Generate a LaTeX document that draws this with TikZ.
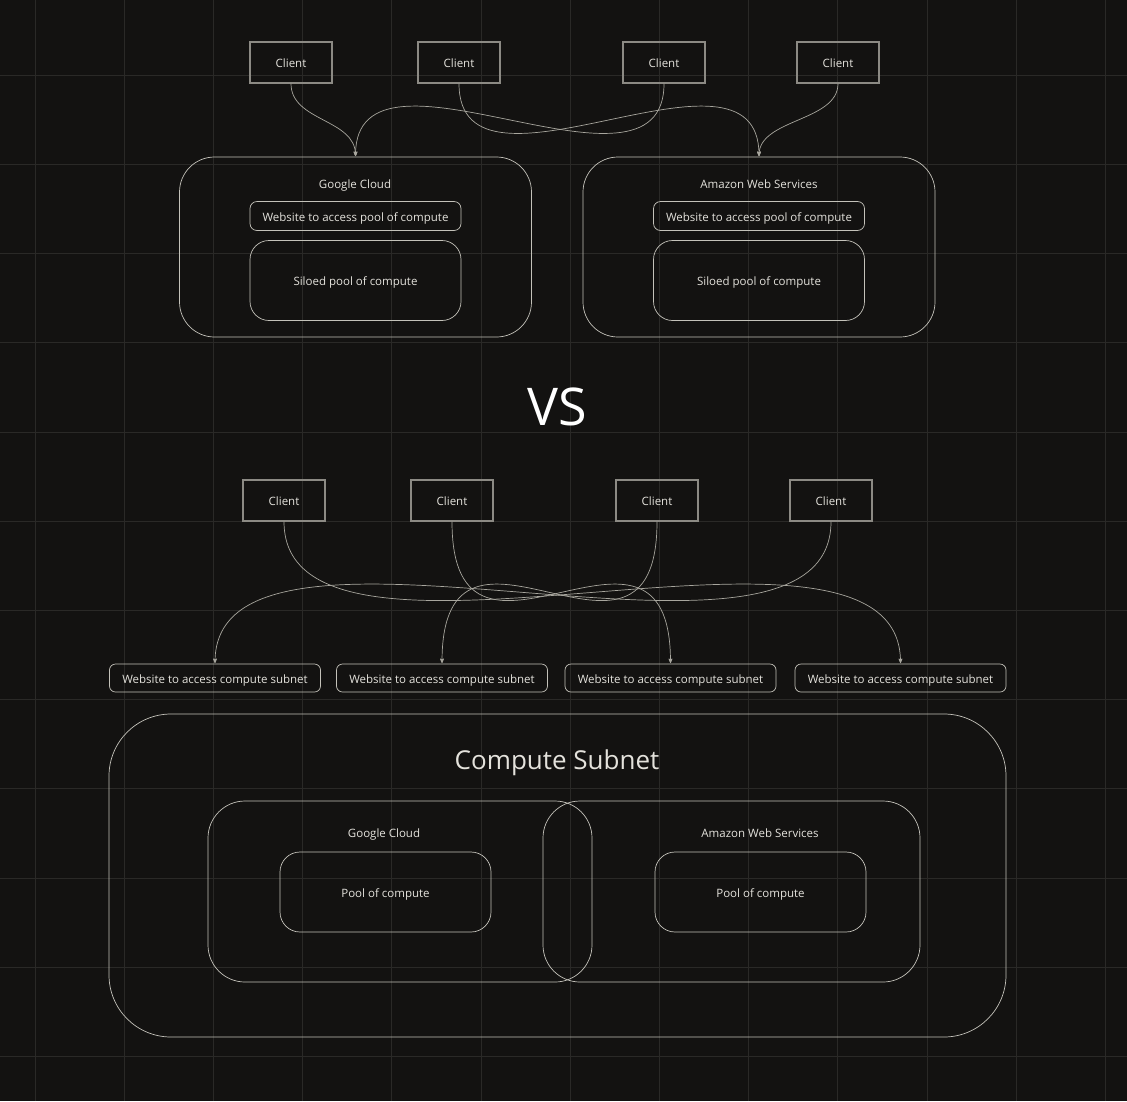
\documentclass[tikz,border=0pt]{standalone}
\usepackage{fontspec}
\setmainfont{Open Sans}
\usepackage{tikz}
\usetikzlibrary{arrows}
\usetikzlibrary{positioning}

\definecolor{bg}{RGB}{19,18,17}
\definecolor{gridc}{RGB}{42,41,39}
\definecolor{clientc}{RGB}{140,138,132}
\definecolor{boxc}{RGB}{196,194,186}
\definecolor{linkc}{RGB}{168,166,158}
\definecolor{txt}{RGB}{228,226,220}

\begin{document}
\begin{tikzpicture}[x=1pt,y=-1pt,>=stealth',shorten >=0.5pt,
	every node/.style={text=txt,font=\fontsize{11.5}{14}\selectfont,text height=12pt,text depth=2pt},
	client node/.style={draw=clientc,line width=1.2pt,minimum width=82pt,minimum height=41pt},
	cloud node/.style={draw=boxc,line width=0.7pt,rounded corners=35pt,minimum width=352pt,minimum height=180pt},
	site node/.style={draw=boxc,line width=0.7pt,rounded corners=7pt,minimum width=211pt,minimum height=29pt},
	pool node/.style={draw=boxc,line width=0.7pt,rounded corners=19pt,minimum width=211pt,minimum height=80pt},
	link/.style={->,draw=linkc,line width=0.7pt}]

	% background and grid
	\fill[bg] (0,0) rectangle (1127,1101);
	\useasboundingbox (0,0) rectangle (1127,1101);
	\foreach \i in {0,...,12}
		\draw[gridc,line width=1pt] (35+89.2*\i,0) -- (35+89.2*\i,1101);
	\foreach \i in {1,...,12}
		\draw[gridc,line width=1pt] (0,-14+89.2*\i) -- (1127,-14+89.2*\i);

	% siloed clouds
	\node[client node] (c1) at (291,62.5) {Client};
	\node[client node] (c2) at (459,62.5) {Client};
	\node[client node] (c3) at (664,62.5) {Client};
	\node[client node] (c4) at (838,62.5) {Client};

	\node[cloud node] (gc) at (355.5,247) {};
	\node (gclabel) at (355,183) {Google Cloud};
	\node[site node] (gcsite) at (355.5,216) {Website to access pool of compute};
	\node[pool node] (gcpool) at (355.5,280.5) {Siloed pool of compute};

	\node[cloud node] (aws) at (759,247) {};
	\node (awslabel) at (759,183) {Amazon Web Services};
	\node[site node] (awssite) at (759,216) {Website to access pool of compute};
	\node[pool node] (awspool) at (759,280.5) {Siloed pool of compute};

	\draw[link] (c1.south) .. controls +(0,38) and +(0,-38) .. (gc.north);
	\draw[link] (c3.south) .. controls +(0,135) and +(0,-135) .. (gc.north);
	\draw[link] (c2.south) .. controls +(0,135) and +(0,-135) .. (aws.north);
	\draw[link] (c4.south) .. controls +(0,38) and +(0,-38) .. (aws.north);

	\node[font=\fontsize{52}{60}\selectfont,text=white,text height=,text depth=] (vs) at (557,407) {VS};

	% shared subnet
	\node[client node] (d1) at (284,500.5) {Client};
	\node[client node] (d2) at (452,500.5) {Client};
	\node[client node] (d3) at (657,500.5) {Client};
	\node[client node] (d4) at (831,500.5) {Client};

	\node[site node,rounded corners=6pt,minimum height=28pt] (s1) at (215,678) {Website to access compute subnet};
	\node[site node,rounded corners=6pt,minimum height=28pt] (s2) at (442,678) {Website to access compute subnet};
	\node[site node,rounded corners=6pt,minimum height=28pt] (s3) at (670.5,678) {Website to access compute subnet};
	\node[site node,rounded corners=6pt,minimum height=28pt] (s4) at (900.5,678) {Website to access compute subnet};

	\draw[link] (d1.south) .. controls +(0,190) and +(0,-190) .. (s4.north);
	\draw[link] (d2.south) .. controls +(0,190) and +(0,-190) .. (s3.north);
	\draw[link] (d3.south) .. controls +(0,190) and +(0,-190) .. (s2.north);
	\draw[link] (d4.south) .. controls +(0,190) and +(0,-190) .. (s1.north);

	\node[cloud node,rounded corners=62pt,minimum width=897pt,minimum height=323pt] (subnet) at (557.5,875.5) {};
	\node[font=\fontsize{26}{32}\selectfont,text height=,text depth=] (subnetlabel) at (557,763) {Compute Subnet};

	\node[cloud node,rounded corners=37pt,minimum width=384pt,minimum height=181pt] (gcin) at (400,891.5) {};
	\node (gcinlabel) at (384,832) {Google Cloud};
	\node[pool node,rounded corners=20pt] (gcinpool) at (385.5,892) {Pool of compute};

	\node[cloud node,rounded corners=37pt,minimum width=377pt,minimum height=181pt] (awsin) at (731.5,891.5) {};
	\node (awsinlabel) at (760,832) {Amazon Web Services};
	\node[pool node,rounded corners=20pt] (awsinpool) at (760.5,892) {Pool of compute};
\end{tikzpicture}
\end{document}
